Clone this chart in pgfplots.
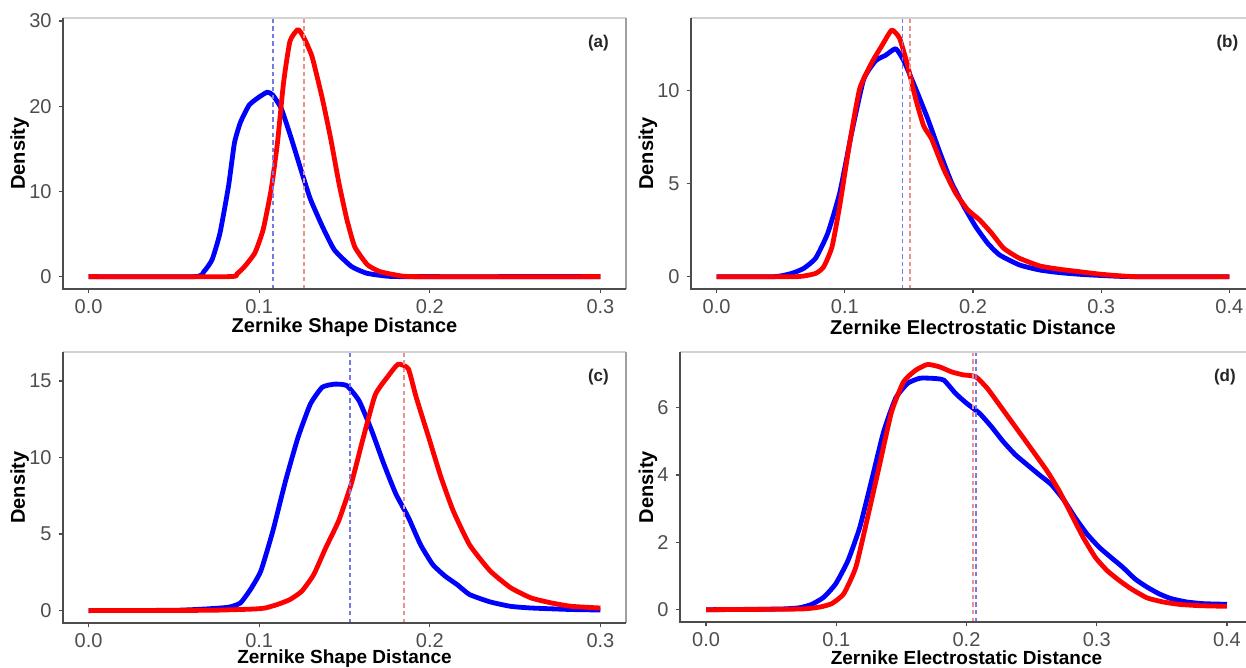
\documentclass[border=0pt]{standalone}
\usepackage{pgfplots}
\pgfplotsset{compat=1.18}
\usepackage{fontspec}
\setmainfont{Liberation Sans}

\definecolor{tickgray}{HTML}{4D4D4D}
\definecolor{dashblue}{HTML}{7878E6}
\definecolor{dashred}{HTML}{EC9090}

\pgfplotsset{
  panel/.style={
    scale only axis, anchor=south west, clip mode=individual,
    axis line style={draw=none},
    tick align=outside, major tick length=2.2pt,
    tick style={tickgray, line width=0.6pt},
    xtick pos=bottom, ytick pos=left,
    ticklabel style={font=\fontsize{10}{10}\selectfont, text=tickgray, inner sep=0.5pt},
    /pgf/number format/assume math mode=true,
    xticklabel style={yshift=-2.3pt, /pgf/number format/fixed, /pgf/number format/fixed zerofill,
      /pgf/number format/precision=1},
    yticklabel style={xshift=-2.8pt},
    scaled ticks=false,
    every axis plot/.append style={line width=2.4pt, line join=round, smooth, tension=0.3},
  },
  dens/.style={draw=blue},
  redd/.style={draw=red},
  vb/.style={draw=dashblue, line width=0.9pt, dash pattern=on 2.2pt off 1.6pt, sharp plot},
  vr/.style={draw=dashred, line width=0.9pt, dash pattern=on 2.2pt off 1.6pt, sharp plot},
}
\newcommand{\frameit}{%
  \draw[gray!35, line width=0.7pt] (rel axis cs:0,1) -- (rel axis cs:1,1);
  \draw[gray!75, line width=0.7pt] (rel axis cs:1,1) -- (rel axis cs:1,0);
  \draw[black!70, line width=0.7pt] (rel axis cs:0,1) -- (rel axis cs:0,0) -- (rel axis cs:1,0);
}
\newcommand{\lab}[5]{% letter, xlabel, ylabel shift, xlabel shift, xlabel size
  \node[font=\bfseries\fontsize{8.5}{8.5}\selectfont, text=black!85] at (rel axis cs:0.951,0.906) {(#1)};
  \node[font=\bfseries\fontsize{#5}{#5}\selectfont, inner sep=0pt] at ([yshift=-#4]rel axis cs:0.5,0) {#2};
  \node[font=\bfseries\fontsize{10}{10}\selectfont, rotate=90] at ([xshift=-#3]rel axis cs:0,0.5) {Density};
}

\begin{document}
\begin{tikzpicture}
\useasboundingbox (0,0) rectangle (623pt,334pt);
\clip (0,0) rectangle (623pt,334pt);

% (a)
\begin{axis}[panel, at={(31.5pt,189.5pt)}, width=281.5pt, height=135.5pt,
  xmin=-0.015, xmax=0.315, ymin=-1.45, ymax=30.35,
  xtick={0,0.1,0.2,0.3}, ytick={0,10,20,30}]
\addplot[dens] coordinates {(0,0) (0.062,0) (0.0676,0.6) (0.0724,2.0) (0.077,5.1) (0.082,10.6) (0.0855,15.7) (0.089,18.1) (0.094,20.1) (0.0987,20.9) (0.1047,21.65) (0.108,21.3) (0.113,19.7) (0.119,16.1) (0.125,12.2) (0.13,9.1) (0.137,5.9) (0.144,3.15) (0.154,1.2) (0.163,0.4) (0.175,0.05) (0.187,0) (0.3,0)};
\addplot[redd] coordinates {(0,0) (0.082,0) (0.0868,0.3) (0.0915,1.2) (0.0975,2.8) (0.1023,5.5) (0.107,10.2) (0.1107,15.7) (0.1143,22.8) (0.118,27.6) (0.1227,29.0) (0.1263,28.0) (0.131,25.8) (0.137,20.9) (0.142,16.1) (0.1467,11.0) (0.1514,6.7) (0.156,3.5) (0.1634,1.4) (0.1706,0.6) (0.18,0.2) (0.192,0) (0.3,0)};
\addplot[vb] coordinates {(0.108,-1.45) (0.108,30.35)};
\addplot[vr] coordinates {(0.1263,-1.45) (0.1263,30.35)};
\frameit
\lab{a}{Zernike Shape Distance}{21.7pt}{19pt}{10}
\end{axis}

% (b)
\begin{axis}[panel, at={(345.5pt,189.5pt)}, width=282pt, height=135.5pt,
  xmin=-0.02, xmax=0.42, ymin=-0.66, ymax=13.9,
  xtick={0,0.1,0.2,0.3,0.4}, ytick={0,5,10}]
\addplot[dens] coordinates {(0,0) (0.045,0) (0.0586,0.18) (0.068,0.45) (0.0773,1.0) (0.0867,2.34) (0.096,4.5) (0.1054,7.75) (0.1147,10.6) (0.124,11.6) (0.1319,11.9) (0.1397,12.25) (0.146,11.6) (0.1553,10.1) (0.1646,8.5) (0.174,6.7) (0.1833,5.05) (0.1927,3.8) (0.202,2.7) (0.2114,1.8) (0.2207,1.17) (0.2363,0.63) (0.252,0.36) (0.2675,0.22) (0.283,0.13) (0.2987,0.07) (0.314,0.02) (0.33,0) (0.4,0)};
\addplot[redd] coordinates {(0,0) (0.062,0) (0.0773,0.18) (0.0836,0.54) (0.09,1.6) (0.096,3.8) (0.1038,7.2) (0.1116,10.1) (0.121,11.5) (0.1288,12.4) (0.1366,13.25) (0.1428,12.8) (0.149,11.35) (0.1553,9.55) (0.1615,8.1) (0.1677,7.4) (0.177,5.8) (0.1864,4.5) (0.1958,3.6) (0.205,3.06) (0.2145,2.34) (0.2239,1.53) (0.236,1.0) (0.252,0.58) (0.2675,0.4) (0.283,0.27) (0.2987,0.14) (0.314,0.05) (0.33,0) (0.4,0)};
\addplot[vb] coordinates {(0.145,-0.66) (0.145,13.9)};
\addplot[vr] coordinates {(0.151,-0.66) (0.151,13.9)};
\frameit
\lab{b}{Zernike Electrostatic Distance}{21.5pt}{19pt}{10}
\end{axis}

% (c)
\begin{axis}[panel, at={(31.5pt,22.5pt)}, width=281.5pt, height=135.5pt,
  xmin=-0.015, xmax=0.315, ymin=-0.81, ymax=16.9,
  xtick={0,0.1,0.2,0.3}, ytick={0,5,10,15}]
\addplot[dens] coordinates {(0,0) (0.05,0.02) (0.0676,0.1) (0.082,0.22) (0.089,0.5) (0.095,1.4) (0.101,2.6) (0.108,5.2) (0.1155,8.5) (0.1227,11.3) (0.13,13.5) (0.137,14.6) (0.1443,14.8) (0.1514,14.7) (0.1586,13.7) (0.1658,11.8) (0.173,9.6) (0.18,7.65) (0.1874,6.1) (0.1946,4.3) (0.2018,3.0) (0.209,2.25) (0.216,1.7) (0.2233,1.05) (0.2353,0.57) (0.2473,0.28) (0.2593,0.17) (0.283,0.07) (0.3,0.04)};
\addplot[redd] coordinates {(0,0) (0.07,0.02) (0.0963,0.1) (0.1035,0.17) (0.1107,0.4) (0.118,0.72) (0.125,1.27) (0.132,2.36) (0.139,4.1) (0.1467,5.9) (0.154,8.3) (0.161,11.3) (0.168,14.1) (0.1754,15.3) (0.1814,16.1) (0.1874,15.8) (0.192,13.95) (0.1994,11.3) (0.2066,8.7) (0.2138,6.5) (0.2233,4.3) (0.2353,2.6) (0.2473,1.5) (0.2593,0.83) (0.2713,0.5) (0.283,0.28) (0.3,0.17)};
\addplot[vb] coordinates {(0.153,-0.81) (0.153,16.9)};
\addplot[vr] coordinates {(0.185,-0.81) (0.185,16.9)};
\frameit
\lab{c}{Zernike Shape Distance}{21.7pt}{17.6pt}{9.5}
\end{axis}

% (d)
\begin{axis}[panel, at={(340pt,23pt)}, width=286.5pt, height=135pt,
  xmin=-0.02, xmax=0.42, ymin=-0.365, ymax=7.65,
  xtick={0,0.1,0.2,0.3,0.4}, ytick={0,2,4,6}]
\addplot[dens] coordinates {(0,0) (0.0567,0.02) (0.072,0.06) (0.0812,0.16) (0.0904,0.37) (0.0996,0.77) (0.109,1.46) (0.118,2.44) (0.127,3.82) (0.1364,5.29) (0.1456,6.28) (0.1548,6.72) (0.164,6.87) (0.173,6.87) (0.1824,6.82) (0.1916,6.42) (0.2,6.13) (0.21,5.83) (0.219,5.44) (0.228,5.0) (0.2375,4.6) (0.2467,4.3) (0.256,4.0) (0.265,3.72) (0.2743,3.28) (0.2835,2.73) (0.2927,2.24) (0.302,1.85) (0.311,1.55) (0.32,1.26) (0.3295,0.91) (0.3387,0.67) (0.348,0.47) (0.357,0.33) (0.369,0.23) (0.3816,0.18) (0.4,0.16)};
\addplot[redd] coordinates {(0,0) (0.072,0.02) (0.0874,0.08) (0.0965,0.18) (0.1057,0.47) (0.115,1.26) (0.124,2.73) (0.1333,4.31) (0.1425,5.88) (0.1517,6.77) (0.161,7.11) (0.17,7.28) (0.1793,7.21) (0.1885,7.06) (0.1977,6.97) (0.207,6.92) (0.216,6.57) (0.2253,6.08) (0.2345,5.59) (0.2437,5.1) (0.253,4.6) (0.262,4.11) (0.2713,3.52) (0.2805,2.83) (0.2897,2.14) (0.299,1.55) (0.308,1.16) (0.3172,0.87) (0.3264,0.62) (0.3387,0.35) (0.351,0.23) (0.363,0.16) (0.3785,0.12) (0.4,0.1)};
\addplot[vb] coordinates {(0.207,-0.365) (0.207,7.65)};
\addplot[vr] coordinates {(0.205,-0.365) (0.205,7.65)};
\frameit
\lab{d}{Zernike Electrostatic Distance}{16pt}{18.1pt}{9.5}
\end{axis}
\end{tikzpicture}
\end{document}
